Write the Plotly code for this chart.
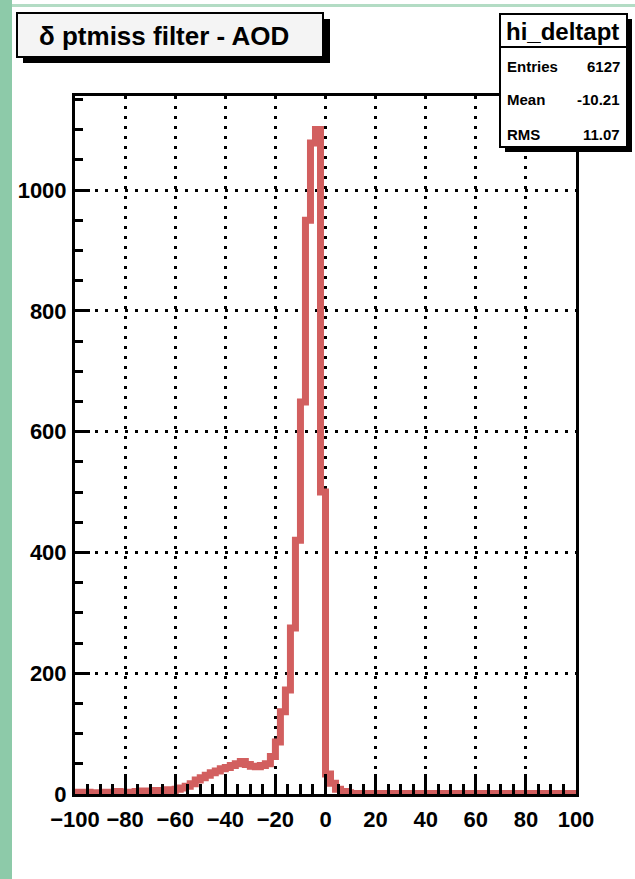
import plotly.graph_objects as go

# ---- data (bin width 2, from -100 to 100) ----
bin_lo = -100
bin_width = 2
counts = [
    3, 2, 3, 2, 1, 2, 3, 2, 4, 3, 2, 3, 4, 5, 3,          # -100 .. -70
    5, 6, 4, 7, 6,                                        # -70 .. -60
    8, 10, 13, 17, 23,                                    # -60 .. -50
    27, 31, 35, 38, 42,                                   # -50 .. -40
    44, 47, 50, 54, 49,                                   # -40 .. -30
    46, 45, 47, 50, 62,                                   # -30 .. -20
    86, 136, 172, 275, 420, 649, 950, 1078, 1100, 500,    # -20 .. 0
    33, 18, 8, 4, 2,                                      # 0 .. 10
    1, 1, 1, 1, 1, 1, 1, 1, 1, 1, 1, 1, 1, 1, 1,          # 10 .. 40
    1, 1, 1, 1, 1, 1, 1, 1, 1, 1, 1, 1, 1, 1, 1,          # 40 .. 70
    1, 1, 1, 1, 1, 1, 1, 1, 1, 1, 1, 1, 1, 1, 1,          # 70 .. 100
]
x_ticks = [-100, -80, -60, -40, -20, 0, 20, 40, 60, 80, 100]
y_ticks = [0, 200, 400, 600, 800, 1000]

title_text = "δ ptmiss filter - AOD"
stats_name = "hi_deltapt"
stats_labels = ["Entries", "Mean", "RMS"]
stats_values = ["6127", "-10.21", "11.07"]

# ---- geometry ----
W, H = 635, 879
L, R, T, B = 75, 576, 96, 794
PW, PH = R - L, B - T


def px(x):
    return (x - L) / PW


def py(y):
    return (B - y) / PH


edges = [bin_lo + i * bin_width for i in range(len(counts) + 1)]
ys = counts + [counts[-1]]

FONT = "Liberation Sans, Arial, Helvetica, sans-serif"

fig = go.Figure()
fig.add_trace(go.Scatter(
    x=edges, y=ys, mode="lines", line_shape="hv",
    line=dict(color="rgb(210,95,95)", width=7),
    hoverinfo="skip", showlegend=False,
))

tickfont = dict(family=FONT, size=22, color="black", weight="bold")
fig.update_xaxes(
    range=[-100, 100], tickvals=x_ticks, ticks="inside", ticklen=20,
    tickwidth=2.5, tickcolor="black", showline=True, linecolor="black",
    linewidth=3, mirror=True, showgrid=True, gridcolor="black",
    gridwidth=2.5, griddash="3px,7px", zeroline=False, tickfont=tickfont,
    ticklabelstandoff=4,
    minor=dict(dtick=5, ticks="inside", ticklen=10, tickwidth=2.5,
               tickcolor="black", showgrid=False),
)
fig.update_yaxes(
    range=[0, PH / 0.604], tickvals=y_ticks, ticks="inside", ticklen=15,
    tickwidth=2.5, tickcolor="black", showline=True, linecolor="black",
    linewidth=3, mirror=True, showgrid=True, gridcolor="black",
    gridwidth=2.5, griddash="3px,7px", zeroline=False, tickfont=tickfont,
    ticklabelstandoff=1,
    minor=dict(dtick=50, ticks="inside", ticklen=7.5, tickwidth=2.5,
               tickcolor="black", showgrid=False),
)

shapes = []
# green decorations
shapes.append(dict(type="rect", xref="paper", yref="paper",
                   x0=px(0), x1=px(12), y0=py(0), y1=py(H),
                   fillcolor="#8dcaa9", line_width=0, layer="below"))
shapes.append(dict(type="rect", xref="paper", yref="paper",
                   x0=px(12), x1=px(W), y0=py(4), y1=py(7),
                   fillcolor="#b3dcc4", line_width=0, layer="below"))
# title box with shadow
shapes.append(dict(type="rect", xref="paper", yref="paper",
                   x0=px(23), x1=px(330), y0=py(63), y1=py(19),
                   fillcolor="black", line_width=0, layer="above"))
shapes.append(dict(type="rect", xref="paper", yref="paper",
                   x0=px(17), x1=px(323), y0=py(57), y1=py(13),
                   fillcolor="#f4f4f4", line=dict(color="black", width=2),
                   layer="above"))
# stats box with shadow
shapes.append(dict(type="rect", xref="paper", yref="paper",
                   x0=px(505), x1=px(632), y0=py(152), y1=py(19),
                   fillcolor="black", line_width=0, layer="above"))
shapes.append(dict(type="rect", xref="paper", yref="paper",
                   x0=px(500), x1=px(627), y0=py(147), y1=py(14),
                   fillcolor="white", line=dict(color="black", width=2),
                   layer="above"))
shapes.append(dict(type="line", xref="paper", yref="paper",
                   x0=px(500), x1=px(627), y0=py(47), y1=py(47),
                   line=dict(color="black", width=2), layer="above"))

annotations = []
annotations.append(dict(xref="paper", yref="paper", x=px(164), y=py(36),
                        text=title_text, showarrow=False,
                        font=dict(family=FONT, size=26, color="black",
                                  weight="bold"),
                        xanchor="center", yanchor="middle"))
annotations.append(dict(xref="paper", yref="paper", x=px(562), y=py(31),
                        text=stats_name, showarrow=False,
                        font=dict(family=FONT, size=24, color="black",
                                  weight="bold"),
                        xanchor="center", yanchor="middle"))
row_y = [67, 100, 134]
for lab, val, ry in zip(stats_labels, stats_values, row_y):
    annotations.append(dict(xref="paper", yref="paper", x=px(505), y=py(ry),
                            text=lab, showarrow=False,
                            font=dict(family=FONT, size=15, color="black",
                                      weight="bold"),
                            xanchor="left", yanchor="middle"))
    annotations.append(dict(xref="paper", yref="paper", x=px(622), y=py(ry),
                            text=val, showarrow=False,
                            font=dict(family=FONT, size=15, color="black",
                                      weight="bold"),
                            xanchor="right", yanchor="middle"))

fig.update_layout(
    width=W, height=H, autosize=False,
    margin=dict(l=L, r=W - R, t=T, b=H - B, pad=0),
    paper_bgcolor="white", plot_bgcolor="white",
    shapes=shapes, annotations=annotations, showlegend=False,
)

fig.write_html("out.html")
